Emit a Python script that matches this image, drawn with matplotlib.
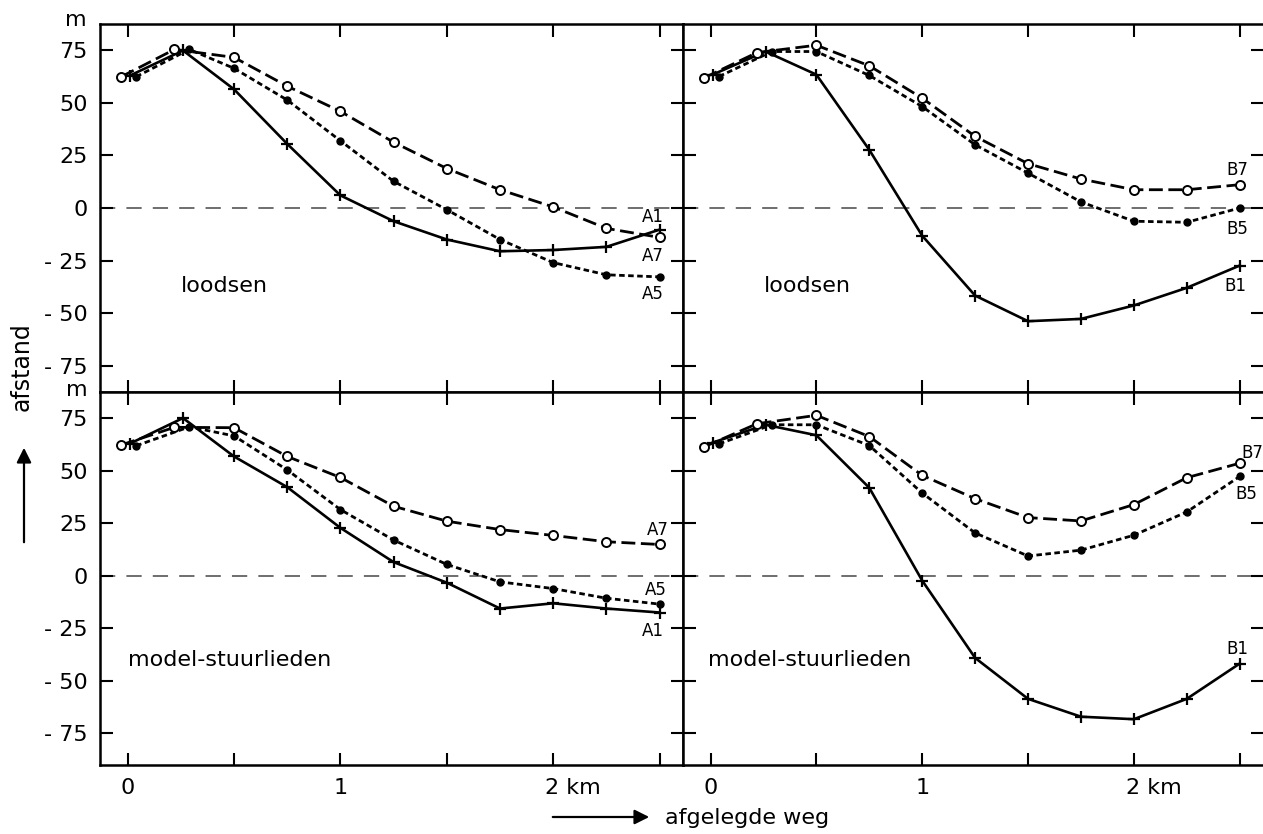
import matplotlib
matplotlib.use("Agg")
import matplotlib.pyplot as plt
import matplotlib.transforms as mtransforms
from matplotlib.patches import FancyArrowPatch

plt.rcParams['font.family'] = ['DejaVu Sans']
plt.rcParams['lines.scale_dashes'] = False

# afgelegde weg (km) per markertype
x_open = [-0.03, 0.22, 0.5, 0.75, 1.0, 1.25, 1.5, 1.75, 2.0, 2.25, 2.5]
x_dot = [0.04, 0.29, 0.5, 0.75, 1.0, 1.25, 1.5, 1.75, 2.0, 2.25, 2.5]
x_plus = [0.01, 0.26, 0.5, 0.75, 1.0, 1.25, 1.5, 1.75, 2.0, 2.25, 2.5]

# afstand (m) - loodsen, situatie A
a7_lood = [62.5, 75.5, 71.7, 58, 46, 31.3, 18.8, 8.7, 0.5, -9.7, -14]
a5_lood = [62.5, 75.5, 66.5, 51.4, 32, 12.7, -0.8, -15, -26, -31.8, -32.8]
a1_lood = [63, 75, 56.5, 30.5, 6, -6.3, -15, -20.6, -20, -18.5, -10.3]

# loodsen, situatie B
b7_lood = [62, 74, 77.5, 67.7, 52.3, 34.1, 21.1, 13.8, 8.7, 8.7, 11.1]
b5_lood = [62.6, 74.5, 74.5, 63.1, 48.3, 30.1, 16.6, 2.9, -6.3, -6.8, 0]
b1_lood = [63.5, 74.5, 63.5, 27.7, -13.2, -41.7, -53.9, -52.8, -46.4, -38, -27.4]

# model-stuurlieden, situatie A
a7_model = [62.4, 70.8, 70.6, 56.9, 46.9, 33.2, 26.1, 22.1, 19.3, 16.3, 15.0]
a5_model = [62, 71, 66.7, 50.5, 31.6, 17.1, 5.5, -2.8, -6, -10.6, -13.4]
a1_model = [63, 75.2, 56.9, 42.3, 22.9, 6.6, -3.2, -15.5, -13, -15.5, -17.4]

# model-stuurlieden, situatie B
b7_model = [61.5, 72.5, 76.5, 66.4, 47.9, 36.8, 27.8, 26.2, 34, 46.8, 53.7]
b5_model = [62.9, 72, 72, 62.1, 39.5, 20.5, 9.5, 12.3, 19.4, 30.5, 47.4]
b1_model = [63.5, 72, 67, 42, -2.2, -39, -58.5, -67, -68.2, -58.5, -41.7]

y_ticks = [75, 50, 25, 0, -25, -50, -75]
y_ticklabels = ['75', '50', '25', '0', '- 25', '- 50', '- 75']
x_ticklabels = ['0', '', '1', '', '2 km', '']

W, H = 1263, 834
fig = plt.figure(figsize=(W / 100, H / 100), dpi=100)


def px_box(x0, y0, x1, y1):
    return [x0 / W, 1 - y1 / H, (x1 - x0) / W, (y1 - y0) / H]


ax_tl = fig.add_axes(px_box(100, 24, 683, 392))
ax_tr = fig.add_axes(px_box(683, 24, 1263, 392))
ax_bl = fig.add_axes(px_box(100, 392, 683, 765))
ax_br = fig.add_axes(px_box(683, 392, 1263, 765))


def draw_series(ax, open_y, dot_y, plus_y):
    ax.plot(x_plus, plus_y, color='black', lw=1.9, marker='+', ms=9, mew=1.6,
            zorder=3)
    ax.plot(x_dot, dot_y, color='black', lw=2.0, dashes=(4, 2.5), marker='o',
            ms=5, mfc='black', mec='black', zorder=4)
    ax.plot(x_open, open_y, color='black', lw=2.0, dashes=(10, 4), marker='o',
            ms=6.5, mfc='white', mec='black', mew=1.4, zorder=5)


def style_axes(ax, ylim, left, bottom):
    ax.set_xlim(-0.13, 2.61)
    ax.set_ylim(*ylim)
    ax.axhline(0, color='#555555', lw=1.2, dashes=(11, 8), zorder=1)
    ax.set_xticks([0, 0.5, 1, 1.5, 2, 2.5])
    ax.set_yticks(y_ticks)
    ax.tick_params(direction='in', length=9, width=1.5, top=True, right=True,
                   labelleft=left, labelbottom=bottom, labelsize=16, pad=9)
    for sp in ax.spines.values():
        sp.set_linewidth(1.8)
    if left:
        ax.set_yticklabels(y_ticklabels)
    if bottom:
        ax.set_xticklabels(x_ticklabels)
        lab = ax.get_xticklabels()[4]
        lab.set_horizontalalignment('left')
        lab.set_transform(lab.get_transform() + mtransforms.ScaledTranslation(
            -6 / 72, 0, fig.dpi_scale_trans))


draw_series(ax_tl, a7_lood, a5_lood, a1_lood)
draw_series(ax_tr, b7_lood, b5_lood, b1_lood)
draw_series(ax_bl, a7_model, a5_model, a1_model)
draw_series(ax_br, b7_model, b5_model, b1_model)

style_axes(ax_tl, (-87.6, 87.6), True, False)
style_axes(ax_tr, (-87.6, 87.6), False, False)
style_axes(ax_bl, (-90, 87.6), True, True)
style_axes(ax_br, (-90, 87.6), False, True)
ax_tr.spines['right'].set_visible(False)
ax_br.spines['right'].set_visible(False)

# paneelteksten
ax_tl.text(0.25, -37, 'loodsen', fontsize=16, va='center')
ax_tr.text(0.25, -37, 'loodsen', fontsize=16, va='center')
ax_bl.text(0.0, -40, 'model-stuurlieden', fontsize=16, va='center')
ax_br.text(-0.01, -40, 'model-stuurlieden', fontsize=16, va='center')

# curvelabels
lbl = dict(fontsize=12, ha='center', va='center')
ax_tl.text(2.47, -4.5, 'A1', **lbl)
ax_tl.text(2.47, -23, 'A7', **lbl)
ax_tl.text(2.47, -41, 'A5', **lbl)
ax_tr.text(2.49, 18, 'B7', **lbl)
ax_tr.text(2.49, -10, 'B5', **lbl)
ax_tr.text(2.48, -37, 'B1', **lbl)
ax_bl.text(2.49, 22, 'A7', **lbl)
ax_bl.text(2.48, -6.5, 'A5', **lbl)
ax_bl.text(2.47, -26, 'A1', **lbl)
ax_br.text(2.56, 58.5, 'B7', **lbl)
ax_br.text(2.53, 39, 'B5', **lbl)
ax_br.text(2.49, -35, 'B1', **lbl)

# eenheden en aslabels
fig.text(76 / W, 1 - 20 / H, 'm', fontsize=16, ha='center', va='center')
fig.text(77 / W, 1 - 390 / H, 'm', fontsize=16, ha='center', va='center')
fig.text(22 / W, 1 - 367 / H, 'afstand', fontsize=17, rotation=90,
         ha='center', va='center')
fig.text(665 / W, 1 - 818 / H, 'afgelegde weg', fontsize=16,
         ha='left', va='center')
fig.add_artist(FancyArrowPatch((24 / W, 1 - 545 / H), (24 / W, 1 - 445 / H),
                               transform=fig.transFigure, arrowstyle='-|>',
                               mutation_scale=22, lw=1.6, color='black'))
fig.add_artist(FancyArrowPatch((550 / W, 1 - 817 / H), (652 / W, 1 - 817 / H),
                               transform=fig.transFigure, arrowstyle='-|>',
                               mutation_scale=22, lw=1.6, color='black'))

fig.savefig('out.png', dpi=100)
